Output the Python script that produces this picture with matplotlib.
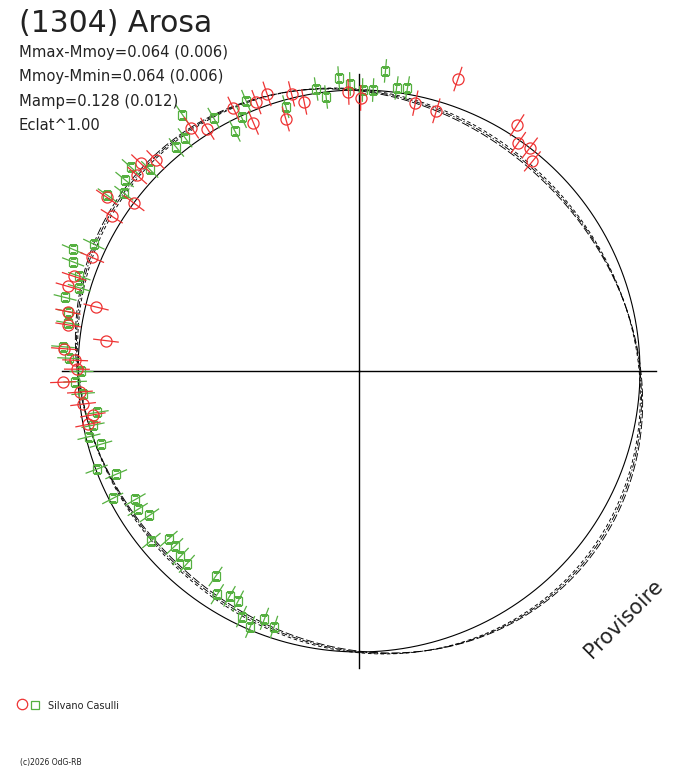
import numpy as np
import matplotlib
matplotlib.use('Agg')
import matplotlib.pyplot as plt

# 相位 (0-1, 从顶部顺时针) 和相对亮度 (参考圆半径 = 1)
red_phase = [0.929, 0.942, 0.949, 0.936, 0.962, 0.955, 0.968, 0.994, 0.001, 0.033,
             0.046, 0.052, 0.091, 0.097, 0.104, 0.110, 0.904, 0.911, 0.878, 0.871,
             0.865, 0.846, 0.852, 0.839, 0.814, 0.801, 0.795, 0.788, 0.782, 0.775,
             0.769, 0.762, 0.756, 0.751, 0.744, 0.738, 0.731, 0.724, 0.719]
red_flux = [1.036, 1.024, 1.039, 0.960, 1.015, 0.934, 0.977, 0.994, 0.972, 0.974,
            0.966, 1.097, 1.040, 0.991, 1.000, 0.968, 1.051, 1.017, 1.044, 1.072,
            1.052, 1.090, 0.999, 1.038, 1.032, 1.068, 1.078, 0.963, 1.057, 1.048,
            0.907, 1.053, 1.011, 1.004, 1.054, 0.996, 0.989, 0.960, 0.983]
red_err = 0.046

green_phase = [0.937, 0.931, 0.924, 0.957, 0.976, 0.981, 0.989, 0.995, 0.002, 0.008,
               0.014, 0.021, 0.027, 0.904, 0.917, 0.898, 0.891, 0.866, 0.872, 0.859,
               0.853, 0.847, 0.821, 0.814, 0.808, 0.802, 0.796, 0.789, 0.782, 0.776,
               0.763, 0.757, 0.750, 0.744, 0.737, 0.725, 0.718, 0.712, 0.706, 0.693,
               0.686, 0.674, 0.667, 0.661, 0.654, 0.641, 0.635, 0.629, 0.622, 0.616,
               0.597, 0.590, 0.583, 0.577, 0.571, 0.564, 0.558, 0.551]
green_flux = [1.042, 0.995, 0.961, 0.976, 1.015, 0.982, 1.045, 1.022, 1.000, 1.001,
              1.072, 1.016, 1.022, 1.108, 1.038, 1.035, 1.027, 1.089, 1.034, 1.077,
              1.049, 1.092, 1.046, 1.107, 1.089, 1.051, 1.039, 1.078, 1.057, 1.050,
              1.057, 1.033, 0.989, 1.011, 0.985, 0.944, 0.966, 0.989, 0.955, 0.997,
              0.939, 0.987, 0.918, 0.929, 0.906, 0.954, 0.903, 0.906, 0.916, 0.920,
              0.892, 0.941, 0.925, 0.925, 0.969, 0.990, 0.944, 0.960]
green_err = 0.042

# 拟合曲线的傅里叶系数 (二阶)
fit_c2 = [0.003, 0.000, -0.003]
fit_s2 = [-0.046, -0.052, -0.058]
fit_styles = [(0, (4, 3)), (0, (7, 2, 1.5, 2)), (0, (9, 3))]

red = '#ee3333'
green = '#55b040'

fig = plt.figure(figsize=(6.88, 7.68), dpi=100)
ax = fig.add_axes([0.0317, 0.0779, 0.9802, 0.8781], projection='polar')
ax.set_theta_zero_location('N')
ax.set_theta_direction(-1)
ax.grid(False)
ax.set_xticks([])
ax.set_yticks([])
ax.spines['polar'].set_visible(False)
ax.patch.set_alpha(0)

# 参考圆
t = np.linspace(0, 2 * np.pi, 721)
ax.plot(t, np.ones_like(t), color='black', lw=0.8)
# 拟合曲线
for c2, s2, ls in zip(fit_c2, fit_s2, fit_styles):
    ax.plot(t, 1 + c2 * np.cos(2 * t) + s2 * np.sin(2 * t), color='black', lw=0.65, ls=ls)
# 十字线
for a in [0, np.pi / 2, np.pi, 3 * np.pi / 2]:
    ax.plot([a, a], [0, 1.057], color='black', lw=1.0)

th_g = 2 * np.pi * np.array(green_phase)
th_r = 2 * np.pi * np.array(red_phase)
ax.errorbar(th_g, green_flux, yerr=green_err, fmt='none', ecolor=green, elinewidth=0.9, capsize=0)
ax.plot(th_g, green_flux, 's', mfc='none', mec=green, ms=5.8, mew=0.9)
ax.errorbar(th_r, red_flux, yerr=red_err, fmt='none', ecolor=red, elinewidth=0.9, capsize=0)
ax.plot(th_r, red_flux, 'o', mfc='none', mec=red, ms=8, mew=0.9)
ax.set_ylim(0, 1.2)

# 文字
ov = fig.add_axes([0, 0, 1, 1])
ov.set_xlim(0, 688)
ov.set_ylim(768, 0)
ov.axis('off')
ov.text(19, 32, '(1304) Arosa', fontsize=21.5, va='baseline', color='#222222')
info = ['Mmax-Mmoy=0.064 (0.006)', 'Mmoy-Mmin=0.064 (0.006)', 'Mamp=0.128 (0.012)', 'Eclat^1.00']
for i, s in enumerate(info):
    ov.text(19, 57 + i * 24.5, s, fontsize=10.6, va='baseline', color='#222222')
ov.text(624, 619, 'Provisoire', fontsize=15, rotation=45, ha='center', va='center', color='#222222')
ov.plot([22], [704], 'o', mfc='none', mec=red, ms=7.5, mew=0.9)
ov.plot([35], [705], 's', mfc='none', mec=green, ms=5.5, mew=0.9)
ov.text(48, 709, 'Silvano Casulli', fontsize=7, va='baseline', color='#222222')
ov.text(20, 765, '(c)2026 OdG-RB', fontsize=5.5, va='baseline', color='#222222')

plt.savefig('out.png', dpi=100)
